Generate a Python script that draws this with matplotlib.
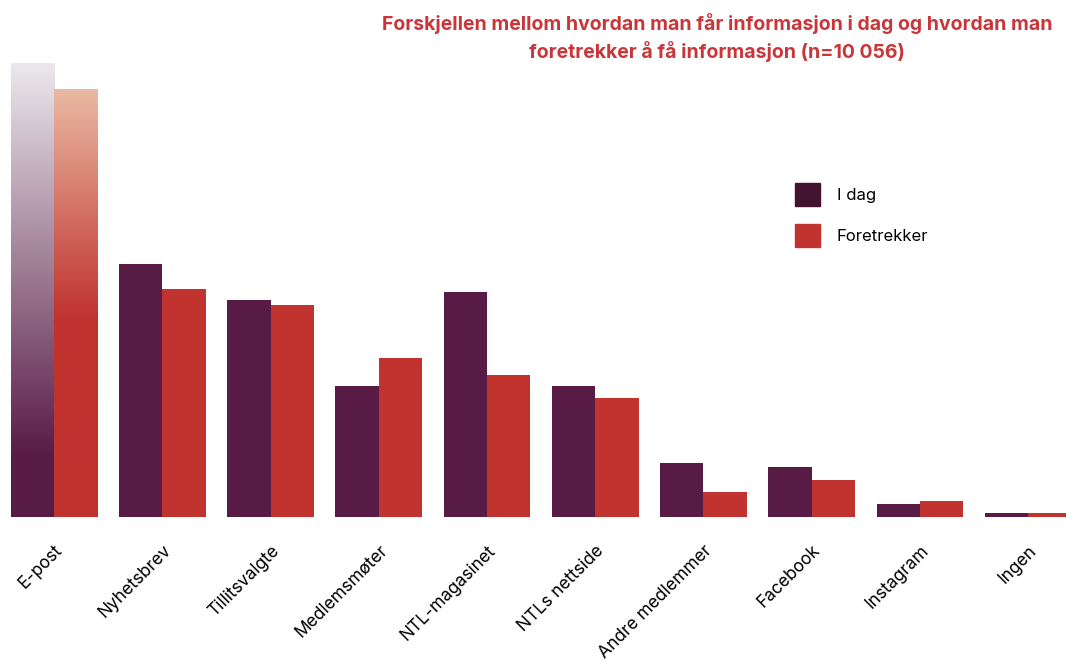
import numpy as np
import matplotlib.pyplot as plt
from matplotlib.colors import to_rgb
from matplotlib.patches import Patch

categories = ['E-post', 'Nyhetsbrev', 'Tillitsvalgte', 'Medlemsmøter', 'NTL-magasinet',
              'NTLs nettside', 'Andre medlemmer', 'Facebook', 'Instagram', 'Ingen']
i_dag = [90.8, 50.6, 43.4, 26.2, 45.0, 26.2, 10.8, 10.0, 2.6, 0.8]
foretrekker = [85.6, 45.6, 42.4, 31.8, 28.4, 23.8, 5.0, 7.4, 3.2, 0.8]
series_labels = ['I dag', 'Foretrekker']
title = 'Forskjellen mellom hvordan man får informasjon i dag og hvordan man\nforetrekker å få informasjon (n=10 056)'

PURPLE = '#581b46'
PURPLE_LEG = '#43142f'
RED = '#c0332f'
TITLE_RED = '#c8363a'

plt.rcParams['font.family'] = ['Inter', 'DejaVu Sans']

fig = plt.figure(figsize=(10.66, 6.63), dpi=100)
ax = fig.add_axes([0, 146 / 663, 1, 517 / 663])

x = np.arange(len(categories))
w = 0.4
b1 = ax.bar(x - w / 2, i_dag, w, color=PURPLE)
b2 = ax.bar(x + w / 2, foretrekker, w, color=RED)


def fade_bar(bar, base, top_col, full_at):
    # vertical gradient from a pale top colour to the bar colour
    x0 = bar.get_x()
    h = bar.get_height()
    ys = np.linspace(0, h, 256)
    t = np.clip((ys - full_at) / (h - full_at), 0, 1)[:, None]
    c0 = np.array(to_rgb(base))
    c1 = np.array(to_rgb(top_col))
    img = (c0 * (1 - t) + c1 * t)[:, None, :]
    im = ax.imshow(img, extent=[x0, x0 + bar.get_width(), 0, h], origin='lower',
                   aspect='auto', zorder=3, interpolation='bilinear')
    im.set_clip_path(bar)


fade_bar(b1[0], PURPLE, '#ebe8ec', 12)
fade_bar(b2[0], RED, '#eab9a3', 40)

ax.set_xlim(-0.5, 9.35)
ax.set_ylim(0, 103.4)
ax.set_xticks(x)
ax.set_xticklabels(categories, rotation=45, ha='right', va='top',
                   rotation_mode='anchor', fontsize=12.5)
ax.tick_params(axis='x', length=0, pad=18)
ax.set_yticks([])
for s in ax.spines.values():
    s.set_visible(False)

handles = [Patch(color=PURPLE_LEG), Patch(color=RED)]
ax.legend(handles, series_labels, loc='upper left', bbox_to_anchor=(780 / 1066, 1 - 168 / 517),
          frameon=False, fontsize=12, handlelength=1.5, handleheight=1.75,
          handletextpad=1.0, labelspacing=1.1)

fig.text(717 / 1066, 1 - 13 / 663, title, ha='center', va='top', color=TITLE_RED,
         fontsize=14, fontweight='bold', linespacing=1.4)

fig.savefig('out.png', dpi=100)
